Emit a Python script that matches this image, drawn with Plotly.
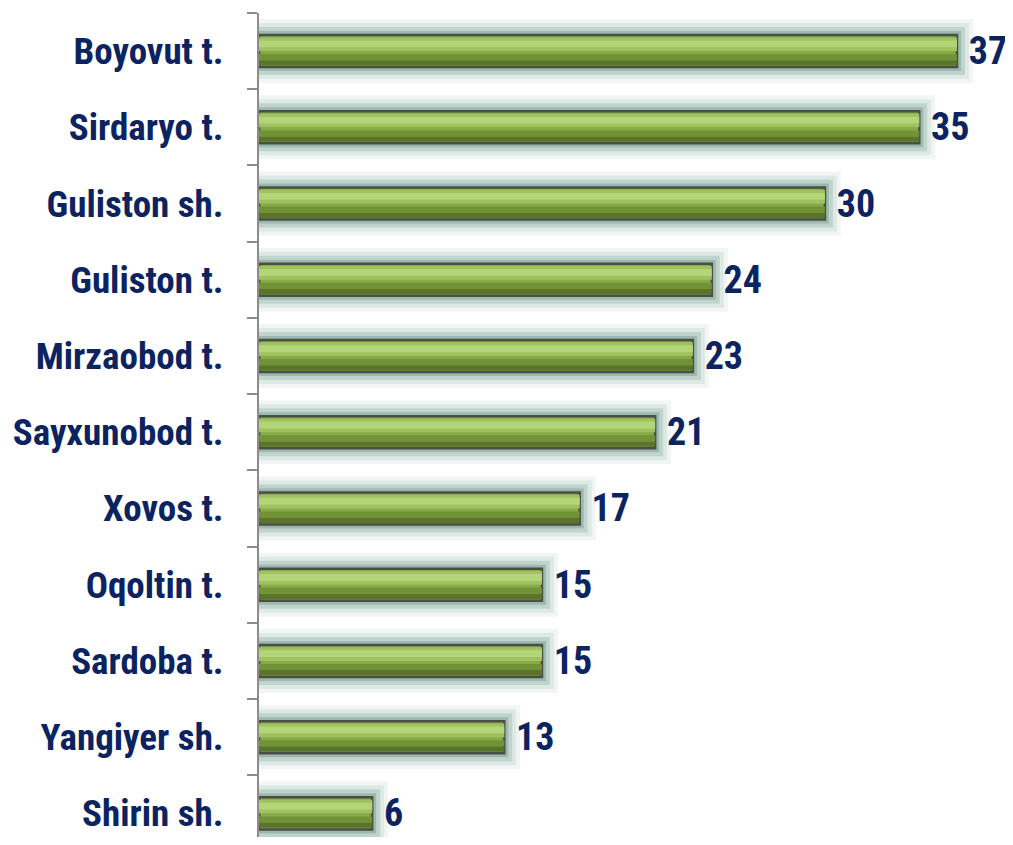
import plotly.graph_objects as go

names = ["Boyovut t.", "Sirdaryo t.", "Guliston sh.", "Guliston t.", "Mirzaobod t.",
         "Sayxunobod t.", "Xovos t.", "Oqoltin t.", "Sardoba t.", "Yangiyer sh.", "Shirin sh."]
values = [37, 35, 30, 24, 23, 21, 17, 15, 15, 13, 6]

navy = "#0b2461"
thick = 0.42
cond = "Roboto Condensed, Liberation Sans Narrow, DejaVu Sans Condensed, Roboto"

fig = go.Figure()

# soft glow around each bar
for lw, col in [(32, "rgba(120,165,150,0.10)"), (24, "rgba(120,165,150,0.16)"),
                (16, "rgba(110,155,140,0.26)"), (8, "rgba(100,145,130,0.40)")]:
    fig.add_trace(go.Bar(y=names, x=values, orientation="h", width=thick, offset=-thick / 2,
                         marker=dict(color=col, line=dict(color=col, width=lw)),
                         hoverinfo="skip", showlegend=False))

# bar body
fig.add_trace(go.Bar(y=names, x=values, orientation="h", width=thick, offset=-thick / 2,
                     marker=dict(color="#88a948", line=dict(color="#4a4e44", width=2.5)),
                     text=values, texttemplate=" %{x}", textposition="outside",
                     cliponaxis=False, constraintext="none",
                     textfont=dict(family=cond, size=38, color=navy, weight="bold"),
                     showlegend=False))

# shading strips for the glossy look
strips = [(-0.19, 0.07, "#5a742c"), (-0.12, 0.08, "#729236"), (0.0, 0.18, "#9fc25e"),
          (0.05, 0.09, "#b3d577")]
for off, w, col in strips:
    fig.add_trace(go.Bar(y=names, x=values, orientation="h", width=w, offset=off,
                         marker=dict(color=col, line=dict(width=0)),
                         hoverinfo="skip", showlegend=False))

# page body has an 8px margin, so the figure is sized to fit inside the window
fig.update_layout(
    width=1005, height=829, barmode="overlay",
    plot_bgcolor="white", paper_bgcolor="white",
    margin=dict(l=251, r=0, t=5, b=0, autoexpand=False),
    xaxis=dict(range=[0, 39.97], visible=False, fixedrange=True, automargin=False),
    yaxis=dict(categoryorder="array", categoryarray=names[::-1], range=[-0.31, 10.5],
               automargin=False,
               showline=True, linecolor="#8c8c8c", linewidth=2,
               ticks="outside", ticklen=10, tickcolor="#8c8c8c", tickwidth=2,
               tickson="boundaries", ticklabelstandoff=26,
               tickfont=dict(family=cond, size=37, color=navy, weight="bold")),
)

fig.write_html("out.html")
